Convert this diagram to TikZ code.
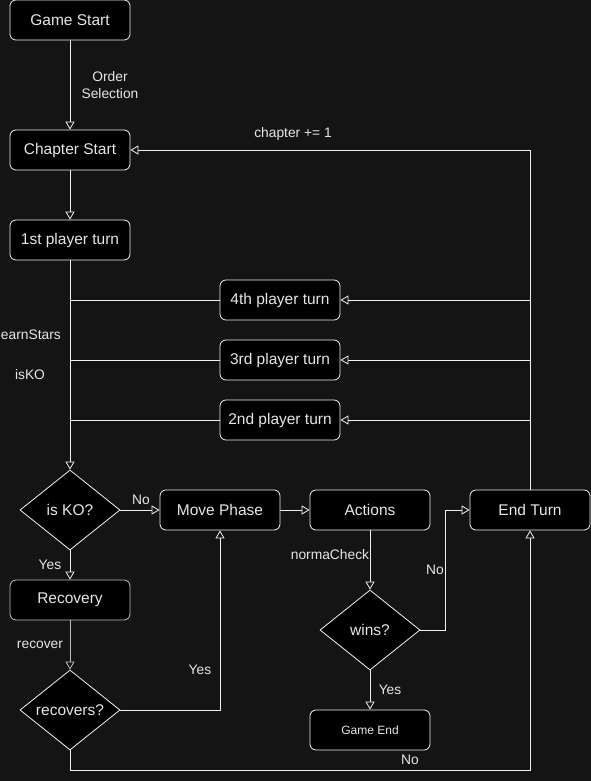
\documentclass[tikz,border=0pt]{standalone}
\usepackage{fontspec}
\setmainfont{Liberation Sans}
\usetikzlibrary{arrows.meta,shapes.geometric}
\definecolor{bg}{HTML}{141414}
\definecolor{fg}{HTML}{F0F0F0}
\definecolor{txt}{HTML}{E6E6E6}
\definecolor{dim}{HTML}{BDBDBD}
\tikzstyle{stepnode} = [draw=fg,fill=black,text=txt,line width=0.8pt,rounded corners=6pt,minimum width=120pt,minimum height=40pt,inner sep=0pt,font=\fontsize{15.5}{18}\selectfont]
\tikzstyle{decision} = [draw=fg,fill=black,text=txt,line width=0.8pt,diamond,aspect=1.25,minimum width=100pt,minimum height=80pt,inner sep=0pt,font=\fontsize{15.5}{18}\selectfont]
\tikzstyle{flow} = [draw=fg,line width=0.8pt,-{Triangle[open,length=8pt,width=9pt]}]
\tikzstyle{plain} = [draw=fg,line width=0.8pt]
\tikzstyle{lbl} = [text=txt,font=\fontsize{13.8}{17}\selectfont,inner sep=0pt,align=center]

\begin{document}
\begin{tikzpicture}[x=1pt,y=-1pt]
  \fill[bg] (0,0) rectangle (591,781);
  \useasboundingbox (0,0) rectangle (591,781);

  % main column
  \node[stepnode] (gamestart) at (70,20) {Game Start};
  \node[stepnode] (chapter) at (70,150) {Chapter Start};
  \node[stepnode] (first) at (70,240) {1st player turn};
  \node[stepnode] (fourth) at (280,300) {4th player turn};
  \node[stepnode] (third) at (280,360) {3rd player turn};
  \node[stepnode] (second) at (280,420) {2nd player turn};

  % turn phases
  \node[decision] (isko) at (70,510) {is KO?};
  \node[stepnode] (move) at (220,510) {Move Phase};
  \node[stepnode] (actions) at (370,510) {Actions};
  \node[stepnode] (endturn) at (530,510) {End Turn};
  \node[stepnode,draw=dim] (recovery) at (70,600) {Recovery};
  \node[decision] (recovers) at (70,710) {recovers?};
  \node[decision] (wins) at (370,630) {wins?};
  \node[stepnode,font=\fontsize{12}{14}\selectfont] (gameend) at (370,730) {Game End};

  % helper points
  \coordinate (join4) at (70,300);
  \coordinate (join3) at (70,360);
  \coordinate (join2) at (70,420);
  \coordinate (loop4) at (530,300);
  \coordinate (loop3) at (530,360);
  \coordinate (loop2) at (530,420);

  % connectors
  \draw[flow] (gamestart) -- (chapter);
  \draw[flow] (chapter) -- (first);
  \draw[flow] (first) -- (isko);
  \draw[plain] (fourth) -- (join4);
  \draw[plain] (third) -- (join3);
  \draw[plain] (second) -- (join2);
  \draw[flow] (endturn) -- (530,150) -- (chapter);
  \draw[flow] (loop4) -- (fourth);
  \draw[flow] (loop3) -- (third);
  \draw[flow] (loop2) -- (second);
  \draw[flow] (isko) -- (move);
  \draw[flow] (move) -- (actions);
  \draw[flow] (isko) -- (recovery);
  \draw[flow,draw=dim] (recovery) -- (recovers);
  \draw[flow] (recovers.east) -| (move.south);
  \draw[flow] (recovers.south) -- (70,770) -| (endturn.south);
  \draw[flow] (actions) -- (wins);
  \draw[flow] (wins.east) -- (445,630) |- (endturn.west);
  \draw[flow] (wins) -- (gameend);

  % labels
  \node[lbl] (ordersel) at (110,85) {Order\\Selection};
  \node[lbl] (chapinc) at (293,134) {chapter += 1};
  \node[lbl,anchor=east] (earn) at (61,335) {earnStars};
  \node[lbl] (iskolbl) at (30,375) {isKO};
  \node[lbl] (nomove) at (141,500) {No};
  \node[lbl] (yesrec) at (50,565) {Yes};
  \node[lbl] (reclbl) at (40,645) {recover};
  \node[lbl] (yesmove) at (200,670) {Yes};
  \node[lbl] (normalbl) at (330,555) {normaCheck};
  \node[lbl] (nowin) at (435,570) {No};
  \node[lbl] (yeswin) at (390,690) {Yes};
  \node[lbl] (noend) at (410,760) {No};
\end{tikzpicture}
\end{document}
